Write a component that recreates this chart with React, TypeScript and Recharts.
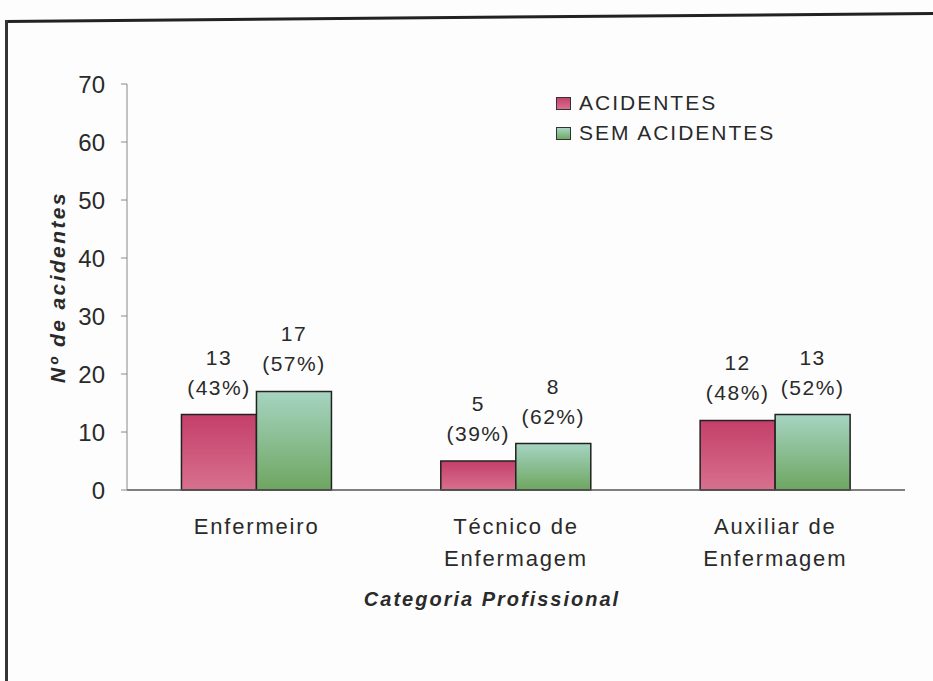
import React from 'react';
import { BarChart, Bar, XAxis, YAxis, Legend, LabelList } from 'recharts';

const categories = ['Enfermeiro', 'Técnico de\nEnfermagem', 'Auxiliar de\nEnfermagem'];
const acidentes = [13, 5, 12];
const semAcidentes = [17, 8, 13];
const acidentesPct = ['43%', '39%', '48%'];
const semAcidentesPct = ['57%', '62%', '52%'];
const yTicks = [0, 10, 20, 30, 40, 50, 60, 70];

const data = categories.map((name, i) => ({
  name,
  acidentes: acidentes[i],
  semAcidentes: semAcidentes[i],
}));

const FONT = '"Liberation Sans", Arial, sans-serif';
const TEXT = '#2a2a2a';

const XTick = (props: any) => {
  const { x, y, payload } = props;
  const lines = String(payload.value).split('\n');
  return (
    <text x={x} y={y} textAnchor="middle" fill={TEXT} fontSize={22} fontFamily={FONT} letterSpacing={1.8}>
      {lines.map((l: string, i: number) => (
        <tspan key={i} x={x} dy={i === 0 ? 36 : 32}>{l}</tspan>
      ))}
    </text>
  );
};

const makeLabel = (pcts: string[]) => (props: any) => {
  const { x, y, width, value, index } = props;
  const cx = x + width / 2;
  return (
    <text textAnchor="middle" fill={TEXT} fontSize={21} fontFamily={FONT} letterSpacing={1.5}>
      <tspan x={cx} y={y - 50}>{value}</tspan>
      <tspan x={cx} y={y - 20}>({pcts[index]})</tspan>
    </text>
  );
};

const LegendBox = () => (
  <div style={{ fontFamily: FONT, fontSize: 21, color: TEXT, letterSpacing: 2, lineHeight: '30px' }}>
    {[
      { label: 'ACIDENTES', fill: 'linear-gradient(#c6426b, #d9708f)' },
      { label: 'SEM ACIDENTES', fill: 'linear-gradient(#a9d6c4, #6fa862)' },
    ].map((it) => (
      <div key={it.label} style={{ display: 'flex', alignItems: 'center' }}>
        <span style={{ display: 'inline-block', width: 13, height: 11, background: it.fill, border: '1.5px solid #333', marginRight: 8 }} />
        {it.label}
      </div>
    ))}
  </div>
);

export default function App() {
  return (
    <div style={{ position: 'absolute', left: 0, top: 0, width: 933, height: 681, background: '#fdfdfd', overflow: 'hidden' }}>
      <div style={{ position: 'absolute', left: 5, top: 20, width: 940, height: 3, background: '#222', transform: 'rotate(-0.5deg)', transformOrigin: '0 0' }} />
      <div style={{ position: 'absolute', left: 5, top: 20, width: 3, height: 670, background: '#333' }} />
      <BarChart
        width={933}
        height={681}
        data={data}
        margin={{ top: 84, right: 28, left: 67, bottom: 71 }}
        barGap={0}
        barCategoryGap="21%"
      >
        <defs>
          <linearGradient id="gPink" x1="0" y1="0" x2="0" y2="1">
            <stop offset="0%" stopColor="#c43f69" />
            <stop offset="100%" stopColor="#d8708f" />
          </linearGradient>
          <linearGradient id="gGreen" x1="0" y1="0" x2="0" y2="1">
            <stop offset="0%" stopColor="#a6d4c2" />
            <stop offset="100%" stopColor="#6ea660" />
          </linearGradient>
        </defs>
        <XAxis
          dataKey="name"
          height={120}
          tickLine={false}
          axisLine={{ stroke: '#555', strokeWidth: 1.5 }}
          tick={<XTick />}
          interval={0}
          label={{
            content: () => (
              <text x={492} y={606} textAnchor="middle" fill={TEXT} fontSize={20} fontWeight="bold" fontStyle="italic" fontFamily={FONT} letterSpacing={2}>
                Categoria Profissional
              </text>
            ),
          }}
        />
        <YAxis
          width={60}
          domain={[0, 70]}
          ticks={yTicks}
          interval={0}
          tickSize={6}
          tickMargin={16}
          axisLine={{ stroke: '#888' }}
          tickLine={{ stroke: '#888' }}
          tick={{ fill: TEXT, fontSize: 24, fontFamily: FONT }}
          label={{
            content: () => (
              <text x={0} y={0} transform="translate(65,287) rotate(-90)" textAnchor="middle" fill={TEXT} fontSize={21} fontWeight="bold" fontStyle="italic" fontFamily={FONT} letterSpacing={2.4}>
                Nº de acidentes
              </text>
            ),
          }}
        />
        <Legend
          layout="vertical"
          verticalAlign="middle"
          align="center"
          content={<LegendBox />}
          wrapperStyle={{ left: 556, top: 88, width: 300 }}
        />
        <Bar dataKey="acidentes" name="ACIDENTES" fill="url(#gPink)" stroke="#222" strokeWidth={1.5} isAnimationActive={false}>
          <LabelList dataKey="acidentes" content={makeLabel(acidentesPct)} />
        </Bar>
        <Bar dataKey="semAcidentes" name="SEM ACIDENTES" fill="url(#gGreen)" stroke="#222" strokeWidth={1.5} isAnimationActive={false}>
          <LabelList dataKey="semAcidentes" content={makeLabel(semAcidentesPct)} />
        </Bar>
      </BarChart>
    </div>
  );
}
